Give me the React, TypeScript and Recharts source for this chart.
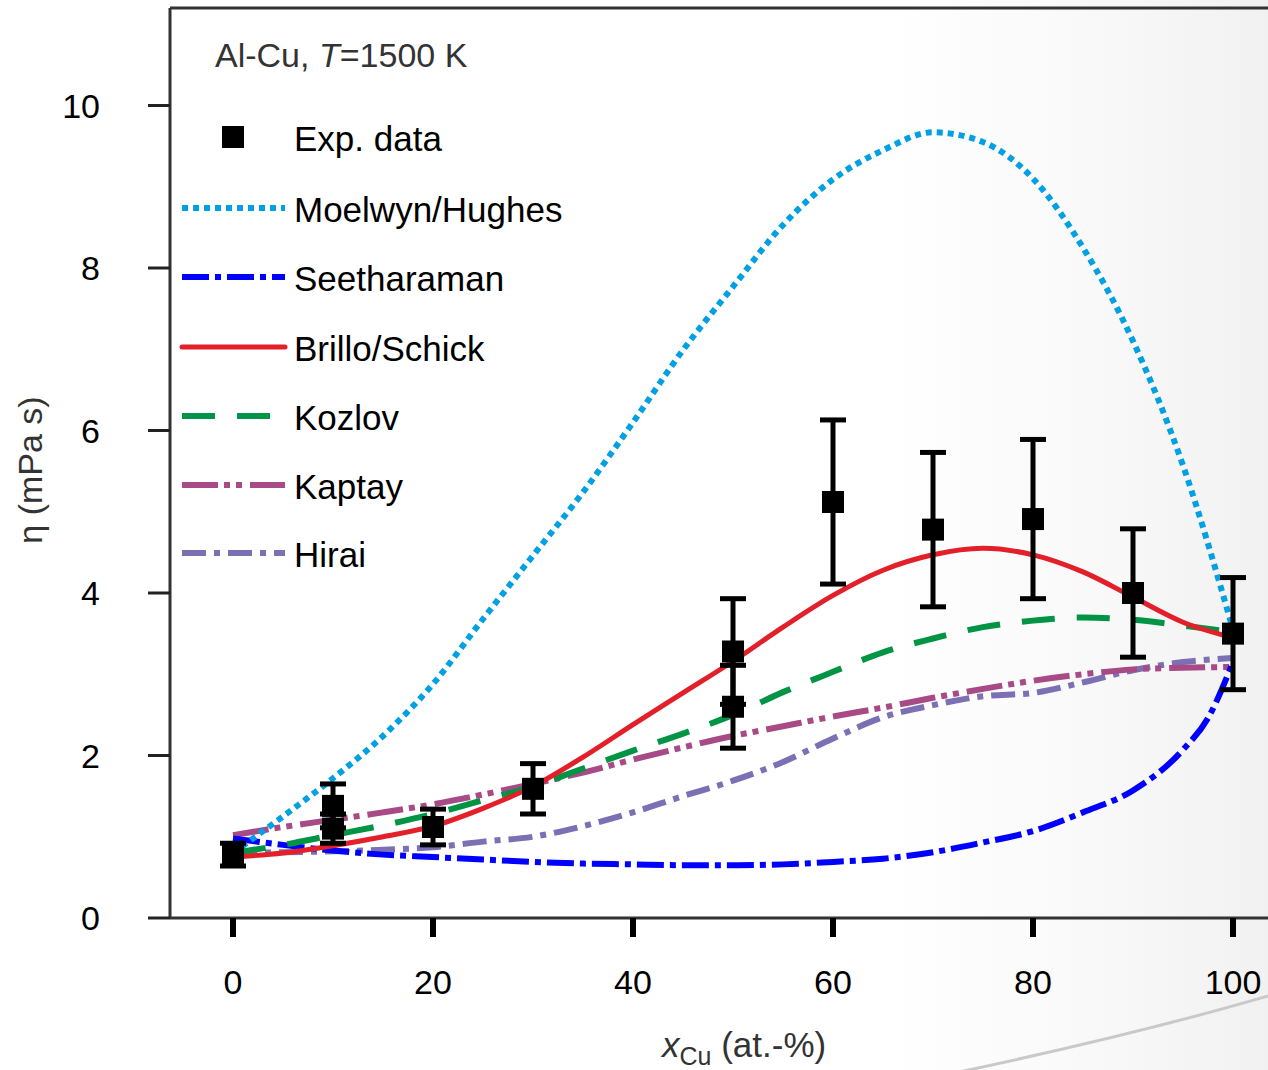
import { ComposedChart, Line, Scatter, ErrorBar, XAxis, YAxis, ReferenceLine } from 'recharts'

const FONT = '"Liberation Sans", Arial, Helvetica, sans-serif'

const X_GRID = [0, 5, 10, 15, 20, 25, 30, 35, 40, 45, 50, 55, 60, 65, 70, 75, 80, 85, 90, 95, 100]
const SEETHA_X = [0, 5, 10, 15, 20, 25, 30, 35, 40, 45, 50, 55, 60, 65, 70, 75, 80, 85, 90, 95, 97.5, 100]

const MOELWYN = [0.8, 1.25, 1.72, 2.24, 2.88, 3.68, 4.46, 5.24, 6.1, 6.99, 7.77, 8.53, 9.09, 9.45, 9.67, 9.55, 9.1, 8.25, 7.1, 5.57, 3.55]
const SEETHARAMAN = [0.98, 0.9, 0.83, 0.78, 0.75, 0.72, 0.69, 0.67, 0.66, 0.65, 0.65, 0.66, 0.69, 0.73, 0.81, 0.93, 1.07, 1.3, 1.57, 2.07, 2.46, 3.15]
const BRILLO = [0.75, 0.8, 0.89, 1.0, 1.13, 1.35, 1.62, 1.98, 2.38, 2.77, 3.16, 3.58, 3.97, 4.28, 4.47, 4.55, 4.47, 4.26, 3.95, 3.64, 3.45]
const KOZLOV = [0.8, 0.9, 1.02, 1.14, 1.28, 1.45, 1.62, 1.84, 2.06, 2.27, 2.5, 2.78, 3.03, 3.27, 3.44, 3.58, 3.66, 3.7, 3.67, 3.6, 3.52]
const KAPTAY = [1.02, 1.12, 1.21, 1.3, 1.4, 1.52, 1.65, 1.79, 1.95, 2.1, 2.24, 2.36, 2.48, 2.59, 2.71, 2.82, 2.92, 3.0, 3.06, 3.08, 3.09]
const HIRAI = [0.8, 0.81, 0.82, 0.84, 0.87, 0.94, 1.0, 1.13, 1.3, 1.5, 1.69, 1.92, 2.21, 2.47, 2.62, 2.73, 2.77, 2.9, 3.05, 3.15, 3.2]

const EXP_X = [0, 10, 10, 20, 30, 50, 50, 60, 70, 80, 90, 100]
const EXP_Y = [0.78, 1.38, 1.1, 1.12, 1.59, 3.28, 2.6, 5.12, 4.78, 4.91, 4.0, 3.5]
const EXP_ERR = [0.14, 0.27, 0.18, 0.22, 0.31, 0.65, 0.51, 1.01, 0.95, 0.98, 0.79, 0.69]

const X_TICKS = [0, 20, 40, 60, 80, 100]
const Y_TICKS = [0, 2, 4, 6, 8, 10]

const toRows = (xs: number[], ys: number[]) => xs.map((x, i) => ({ x, y: ys[i] }))

type Series = { name: string; color: string; dash?: string; width: number; cap: 'butt' | 'round'; xs: number[]; ys: number[] }

const SERIES: Series[] = [
  { name: 'Moelwyn/Hughes', color: '#00a0e3', dash: '6 5', width: 6, cap: 'butt', xs: X_GRID, ys: MOELWYN },
  { name: 'Seetharaman', color: '#0000ff', dash: '27 6 6 6', width: 6, cap: 'butt', xs: SEETHA_X, ys: SEETHARAMAN },
  { name: 'Brillo/Schick', color: '#e3202a', width: 5, cap: 'round', xs: X_GRID, ys: BRILLO },
  { name: 'Kozlov', color: '#009444', dash: '33 22', width: 6, cap: 'butt', xs: X_GRID, ys: KOZLOV },
  { name: 'Kaptay', color: '#a84a86', dash: '36 6 6 6 6 8', width: 6, cap: 'butt', xs: X_GRID, ys: KAPTAY },
  { name: 'Hirai', color: '#7b70b3', dash: '24 8 6 8', width: 6, cap: 'butt', xs: X_GRID, ys: HIRAI },
]

const expRows = EXP_X.map((x, i) => ({ x, y: EXP_Y[i], err: EXP_ERR[i] }))

// draw order: pale curves under the red one
const DRAW_ORDER = ['Hirai', 'Kaptay', 'Seetharaman', 'Moelwyn/Hughes', 'Kozlov', 'Brillo/Schick']

function SquareMark(props: any) {
  const { cx, cy } = props
  if (cx == null || cy == null) return null
  return <rect x={cx - 11} y={cy - 11} width={22} height={22} fill="#000" />
}

function YLabel({ viewBox }: any) {
  if (!viewBox) return null
  const cx = viewBox.x + 42
  const cy = viewBox.y + viewBox.height / 2 + 7
  return (
    <text x={cx} y={cy} transform={`rotate(-90 ${cx} ${cy})`} textAnchor="middle"
          fontSize={34} fill="#333" fontFamily={FONT}>η (mPa s)</text>
  )
}

function XLabel({ viewBox }: any) {
  if (!viewBox) return null
  return (
    <text x={viewBox.x + 492} y={viewBox.y + 139} fontSize={35} fill="#333" fontFamily={FONT}>
      <tspan fontStyle="italic">x</tspan>
      <tspan fontSize={25} dy={8}>Cu</tspan>
      <tspan dy={-8}> (at.-%)</tspan>
    </text>
  )
}

// legend + title panel in the upper-left of the plot frame
function LegendPanel() {
  const rows = [151, 222, 291, 361, 430, 499, 567]
  return (
    <svg width={620} height={600} style={{ position: 'absolute', left: 0, top: 0, pointerEvents: 'none' }}
         fontFamily={FONT}>
      <text x={215} y={67} fontSize={34} fill="#333">
        Al-Cu, <tspan fontStyle="italic">T</tspan>=1500 K
      </text>
      <rect x={222} y={126} width={22} height={22} fill="#000" />
      <text x={294} y={rows[0]} fontSize={35} fill="#000">Exp. data</text>
      {SERIES.map((s, i) => (
        <g key={s.name}>
          <line x1={182} x2={285} y1={rows[i + 1] - 14} y2={rows[i + 1] - 14}
                stroke={s.color} strokeWidth={s.width} strokeDasharray={s.dash} strokeLinecap={s.cap} />
          <text x={294} y={rows[i + 1]} fontSize={35} fill="#000">{s.name}</text>
        </g>
      ))}
    </svg>
  )
}

export default function App() {
  const byName = Object.fromEntries(SERIES.map(s => [s.name, s]))
  return (
    <div style={{
      position: 'absolute', left: 0, top: 0, width: 1268, height: 1070, overflow: 'hidden',
      background: 'linear-gradient(90deg, #ffffff 70%, #f8f8f8 88%, #f1f1f1 100%)',
    }}>
      <svg width={1268} height={1070} style={{ position: 'absolute', left: 0, top: 0 }}>
        <path d="M 945 1075 Q 1135 1035 1275 994" fill="none" stroke="#c9c9c9" strokeWidth={3} />
      </svg>
      <div style={{ position: 'absolute', left: 0, top: 0 }}>
        <ComposedChart width={1268} height={1070} margin={{ top: 8, right: 0, bottom: 0, left: 0 }}>
          <XAxis type="number" dataKey="x" domain={[-6.3, 103.5]} ticks={X_TICKS} allowDataOverflow
                 height={152} tickSize={19} tickMargin={33}
                 axisLine={{ stroke: '#333', strokeWidth: 3 }}
                 tickLine={{ stroke: '#000', strokeWidth: 6 }}
                 tick={{ fontSize: 34, fill: '#000', fontFamily: FONT }}
                 label={<XLabel />} />
          <YAxis type="number" dataKey="y" domain={[0, 11.2]} ticks={Y_TICKS} allowDataOverflow
                 width={170} tickSize={22} tickMargin={48}
                 axisLine={{ stroke: '#333', strokeWidth: 3 }}
                 tickLine={{ stroke: '#222', strokeWidth: 3 }}
                 tick={{ fontSize: 34, fill: '#000', fontFamily: FONT }}
                 label={<YLabel />} />
          <ReferenceLine y={11.2} stroke="#333" strokeWidth={3} />
          {DRAW_ORDER.map(n => {
            const s = byName[n]
            return (
              <Line key={s.name} data={toRows(s.xs, s.ys)} dataKey="y" name={s.name} type="monotone"
                    stroke={s.color} strokeWidth={s.width} strokeDasharray={s.dash} strokeLinecap={s.cap}
                    dot={false} activeDot={false} isAnimationActive={false} />
            )
          })}
          <Scatter data={expRows} dataKey="y" name="Exp. data" shape={<SquareMark />} isAnimationActive={false}>
            <ErrorBar dataKey="err" direction="y" width={13} stroke="#000" strokeWidth={5} />
          </Scatter>
        </ComposedChart>
      </div>
      <LegendPanel />
    </div>
  )
}
